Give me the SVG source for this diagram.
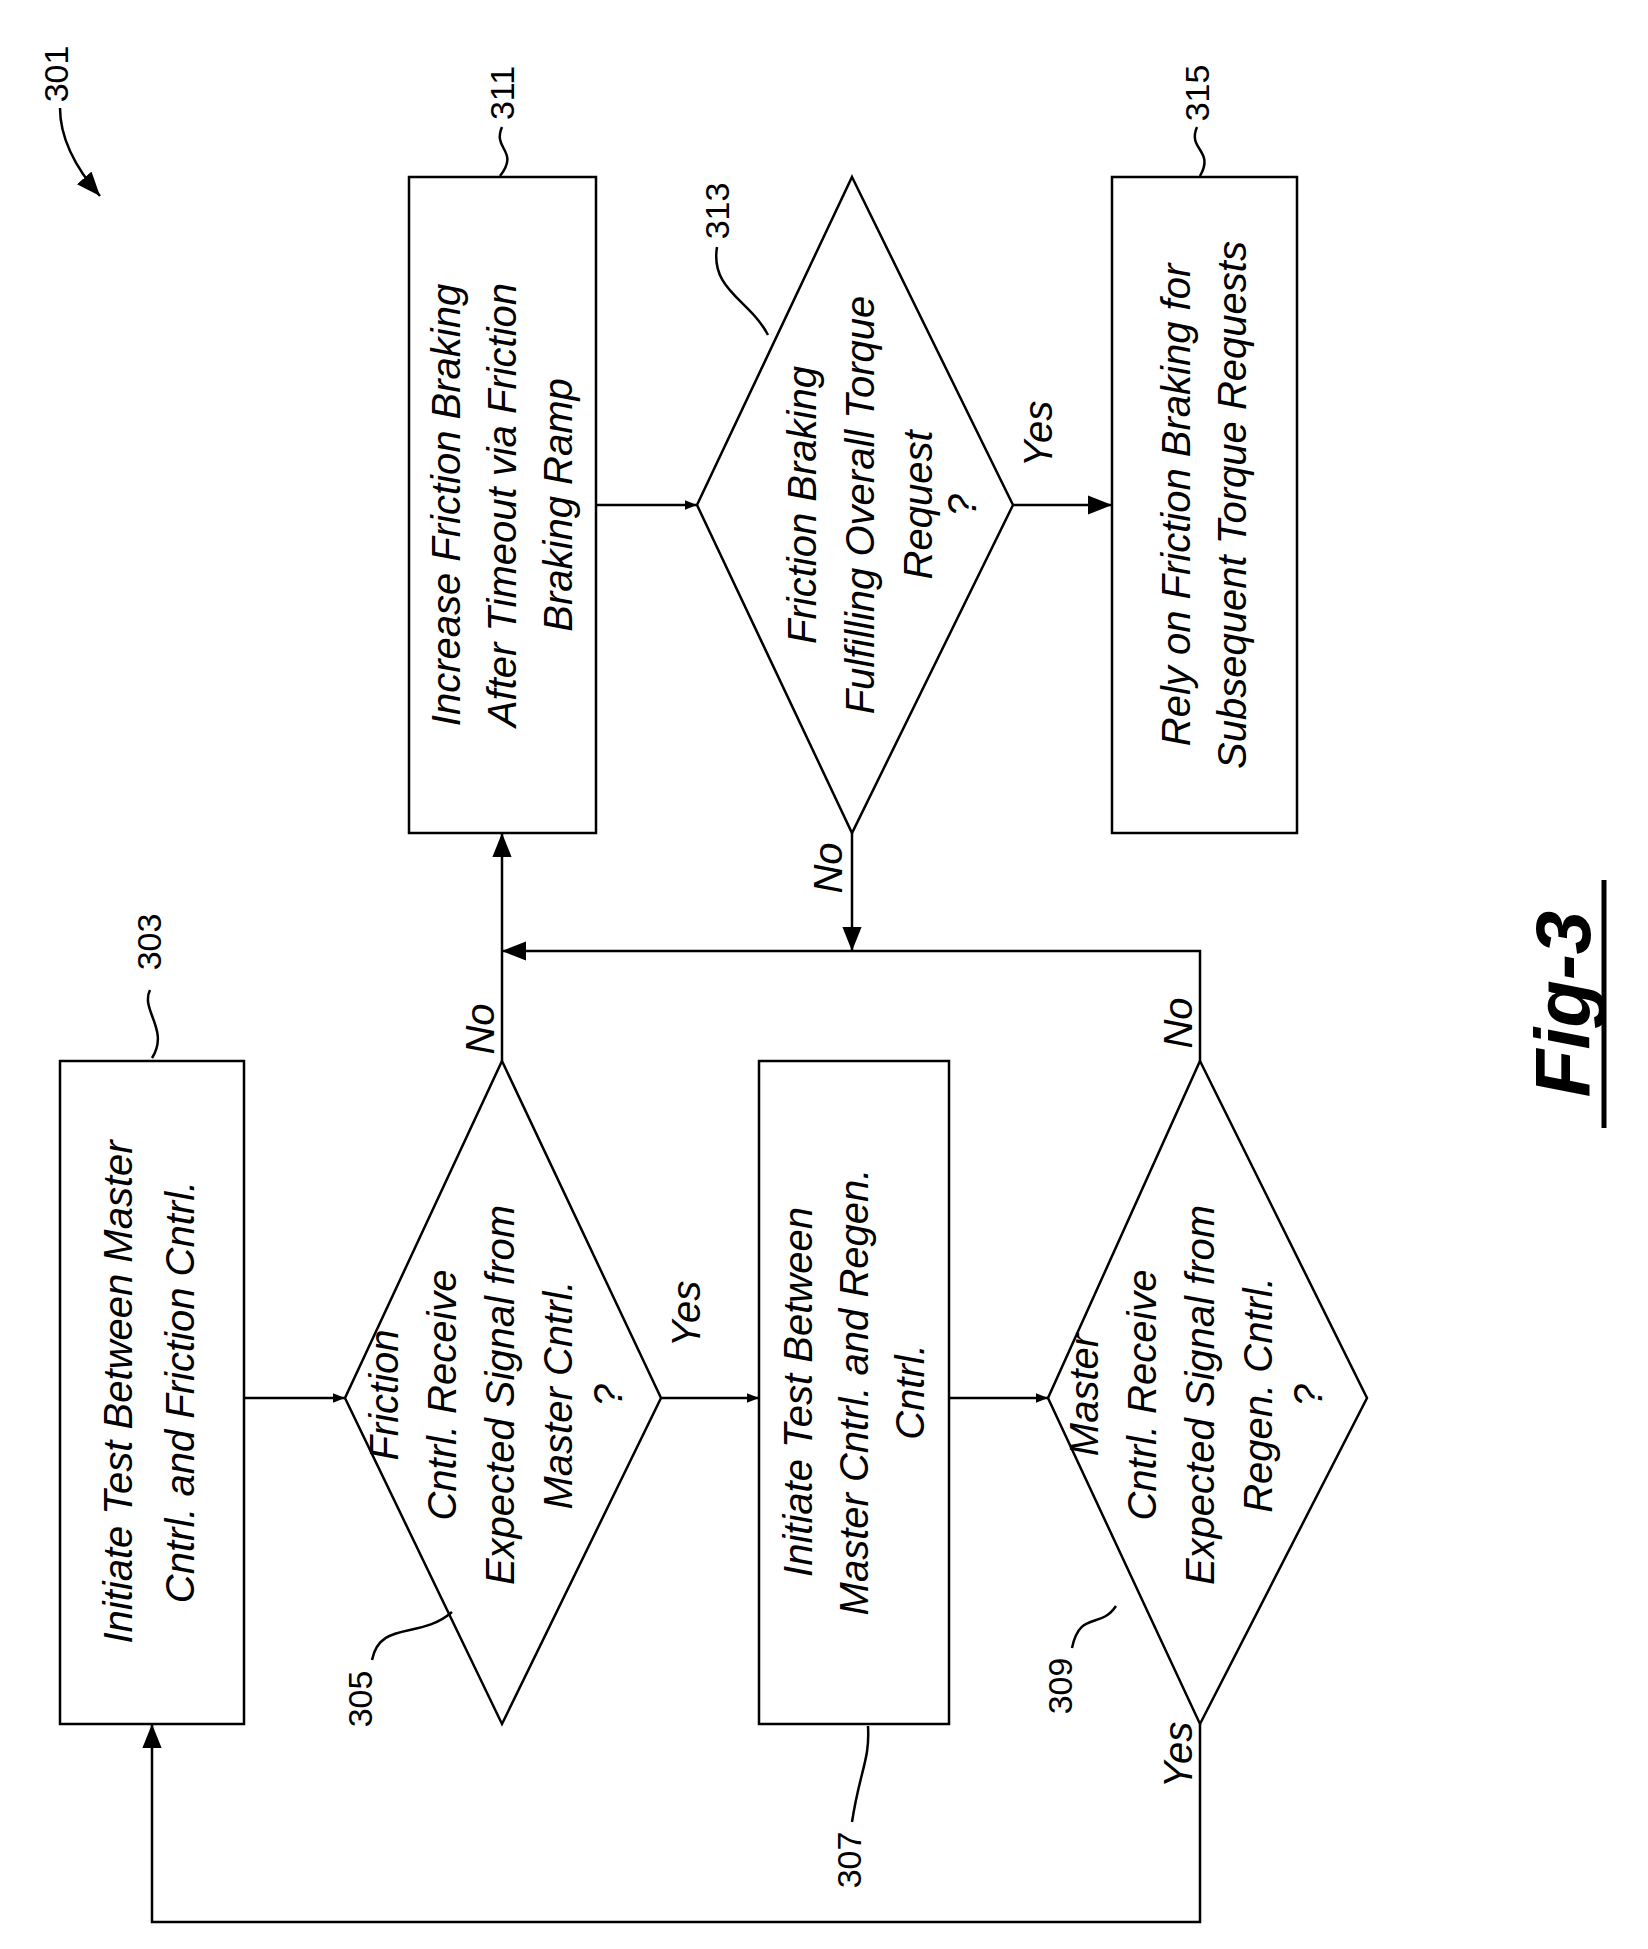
<svg xmlns="http://www.w3.org/2000/svg" width="1648" height="1949" viewBox="0 0 1648 1949">
<style>
.s{fill:none;stroke:#000;stroke-width:2.5}
.t{font-family:"Liberation Sans",Arial,sans-serif;font-style:italic;font-size:40px;text-anchor:middle;fill:#000}
.r{font-family:"Liberation Sans",Arial,sans-serif;font-size:34px;text-anchor:middle;fill:#000}
</style>
<defs><marker id="a" viewBox="0 0 10 10" refX="10" refY="5" markerWidth="12" markerHeight="12" markerUnits="userSpaceOnUse" orient="auto"><path d="M0,1 L10,5 L0,9 z" fill="#000"/></marker>
<marker id="b" viewBox="0 0 10 10" refX="10" refY="5" markerWidth="24" markerHeight="24" markerUnits="userSpaceOnUse" orient="auto"><path d="M0,1 L10,5 L0,9 z" fill="#000"/></marker></defs>
<g id="n303"><rect class="s" x="60" y="1061" width="184" height="663"/><g transform="translate(152,1392) rotate(-90)"><text class="t" y="-20">Initiate Test Between Master</text><text class="t" y="42">Cntrl. and Friction Cntrl.</text></g></g>
<g id="n305"><path class="s" d="M502,1061 L661,1398 L502,1724 L345,1398 z"/><g transform="translate(502,1395) rotate(-90)"><text class="t" y="-104">Friction</text><text class="t" y="-46">Cntrl. Receive</text><text class="t" y="12">Expected Signal from</text><text class="t" y="70">Master Cntrl.</text><text class="t" y="120">?</text></g></g>
<g id="n307"><rect class="s" x="759" y="1061" width="190" height="663"/><g transform="translate(854,1392) rotate(-90)"><text class="t" y="-42">Initiate Test Between</text><text class="t" y="14">Master Cntrl. and Regen.</text><text class="t" y="70">Cntrl.</text></g></g>
<g id="n309"><path class="s" d="M1200,1061 L1367,1398 L1200,1724 L1048,1398 z"/><g transform="translate(1200,1395) rotate(-90)"><text class="t" y="-102">Master</text><text class="t" y="-44">Cntrl. Receive</text><text class="t" y="14">Expected Signal from</text><text class="t" y="72">Regen. Cntrl.</text><text class="t" y="122">?</text></g></g>
<g id="n311"><rect class="s" x="409" y="177" width="187" height="656"/><g transform="translate(502,505) rotate(-90)"><text class="t" y="-42">Increase Friction Braking</text><text class="t" y="14">After Timeout via Friction</text><text class="t" y="70">Braking Ramp</text></g></g>
<g id="n313"><path class="s" d="M852,177 L1013,505 L852,833 L697,505 z"/><g transform="translate(852,505) rotate(-90)"><text class="t" y="-36">Friction Braking</text><text class="t" y="22">Fulfilling Overall Torque</text><text class="t" y="80">Request</text><text class="t" y="124">?</text></g></g>
<g id="n315"><rect class="s" x="1112" y="177" width="185" height="656"/><g transform="translate(1204,505) rotate(-90)"><text class="t" y="-14">Rely on Friction Braking for</text><text class="t" y="42">Subsequent Torque Requests</text></g></g>
<g id="connectors">
<path class="s" d="M244,1398 H345" marker-end="url(#a)"/>
<path class="s" d="M661,1398 H759" marker-end="url(#a)"/>
<path class="s" d="M949,1398 H1048" marker-end="url(#a)"/>
<path class="s" d="M502,1061 V833" marker-end="url(#b)"/>
<path class="s" d="M1200,1061 V951 H502" marker-end="url(#b)"/>
<path class="s" d="M852,833 V951" marker-end="url(#b)"/>
<path class="s" d="M596,505 H697" marker-end="url(#a)"/>
<path class="s" d="M1013,505 H1112" marker-end="url(#b)"/>
<path class="s" d="M1200,1724 V1922 H152 V1724" marker-end="url(#b)"/>
</g>
<g id="labels">
<text class="t" transform="translate(700,1314) rotate(-90)">Yes</text>
<text class="t" transform="translate(494,1029) rotate(-90)">No</text>
<text class="t" transform="translate(842,868) rotate(-90)">No</text>
<text class="t" transform="translate(1052,434) rotate(-90)">Yes</text>
<text class="t" transform="translate(1192,1023) rotate(-90)">No</text>
<text class="t" transform="translate(1192,1755) rotate(-90)">Yes</text>
</g>
<g id="refs">
<text class="r" transform="translate(68,74) rotate(-90)">301</text>
<path class="s" d="M60,108 Q60,150 100,196" marker-end="url(#b)"/>
<text class="r" transform="translate(161,942) rotate(-90)">303</text>
<path class="s" d="M150,990 C140,1010 170,1030 152,1058"/>
<text class="r" transform="translate(514,93) rotate(-90)">311</text>
<path class="s" d="M502,127 C492,150 520,150 500,176"/>
<text class="r" transform="translate(729,211) rotate(-90)">313</text>
<path class="s" d="M717,247 C710,290 750,300 768,335"/>
<text class="r" transform="translate(1209,93) rotate(-90)">315</text>
<path class="s" d="M1197,127 C1187,150 1215,150 1200,176"/>
<text class="r" transform="translate(372,1699) rotate(-90)">305</text>
<path class="s" d="M372,1660 C380,1620 420,1640 452,1612"/>
<text class="r" transform="translate(861,1860) rotate(-90)">307</text>
<path class="s" d="M852,1822 C860,1770 870,1760 868,1726"/>
<text class="r" transform="translate(1072,1686) rotate(-90)">309</text>
<path class="s" d="M1072,1648 C1080,1610 1100,1630 1116,1606"/>
<text transform="translate(1590,1004) rotate(-90)" style="font-family:'Liberation Sans',Arial,sans-serif;font-style:italic;font-weight:bold;font-size:78px;text-anchor:middle">Fig-3</text>
<path d="M1604,880 V1128" stroke="#000" stroke-width="5"/>
</g>
</svg>
